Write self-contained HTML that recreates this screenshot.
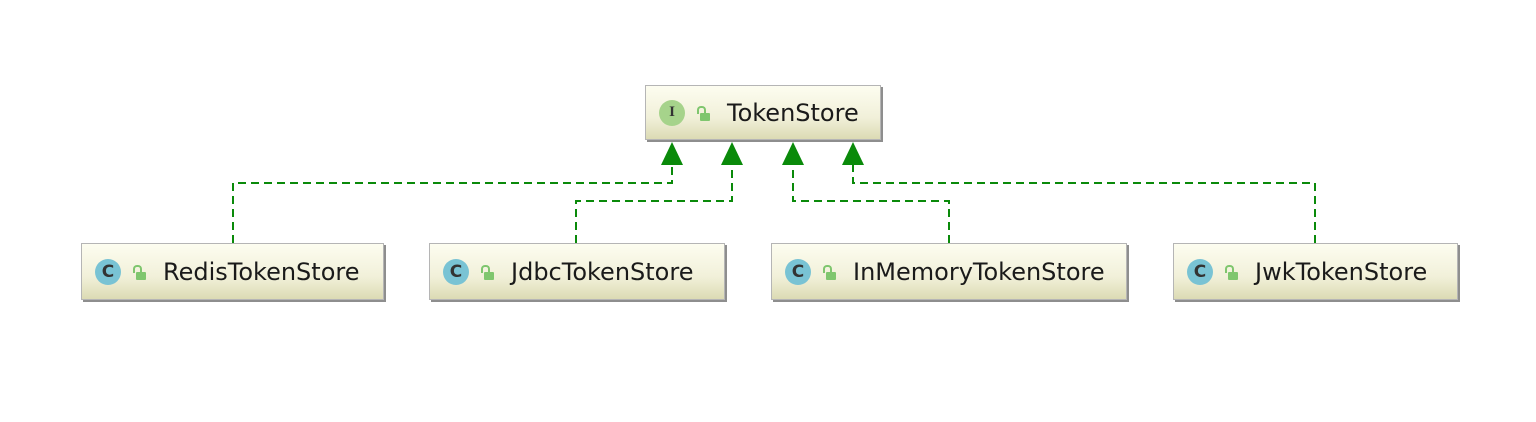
<!DOCTYPE html>
<html><head><style>
body{margin:0;width:1536px;height:422px;background:#fff;position:relative;overflow:hidden;font-family:"DejaVu Sans","Liberation Sans",sans-serif}
.b{position:absolute;box-sizing:border-box;border:1px solid #b5b5b5;background:linear-gradient(#fdfdf0,#f1f0d9 60%,#dcdbb4);box-shadow:2px 2px 0 #8e8e8e;display:flex;align-items:center;font-size:24px;color:#1a1a1a}
.ic{width:26px;height:26px;border-radius:50%;display:inline-flex;align-items:center;justify-content:center;font-size:17px;font-weight:bold;color:#333;margin-left:13px;flex:none}
.lk{width:12px;height:10px;margin:0 18px 0 12px;position:relative;flex:none}
.lk:before{content:"";position:absolute;left:3px;top:5px;width:10px;height:8px;background:#7fc66e;border-radius:1px}
.lk:after{content:"";position:absolute;left:0;top:-2px;width:5px;height:6px;border:2px solid #7fc66e;border-bottom:none;border-radius:4px 4px 0 0}
</style></head><body>
<svg width="1536" height="422" style="position:absolute;left:0;top:0">
<g fill="none" stroke="#0a8a0a" stroke-width="2" stroke-dasharray="8,5">
<path d="M233 243V183H672V165"/>
<path d="M576 243V201H732V165"/>
<path d="M949 243V201H793V165"/>
<path d="M1315 243V183H853V165"/>
</g>
<g fill="#0a8a0a">
<path d="M672 142L661 165H683Z"/><path d="M732 142L721 165H743Z"/>
<path d="M793 142L782 165H804Z"/><path d="M853 142L842 165H864Z"/>
</g></svg>
<div class="b" style="left:645px;top:85px;width:236px;height:55px"><span class="ic" style="background:#a6d38b;font-family:'Liberation Serif',serif;font-size:15px">I</span><span class="lk"></span>TokenStore</div>
<div class="b" style="left:81px;top:243px;width:303px;height:57px"><span class="ic" style="background:#79c3d4">C</span><span class="lk"></span>RedisTokenStore</div>
<div class="b" style="left:429px;top:243px;width:296px;height:57px"><span class="ic" style="background:#79c3d4">C</span><span class="lk"></span>JdbcTokenStore</div>
<div class="b" style="left:771px;top:243px;width:356px;height:57px"><span class="ic" style="background:#79c3d4">C</span><span class="lk"></span>InMemoryTokenStore</div>
<div class="b" style="left:1173px;top:243px;width:285px;height:57px"><span class="ic" style="background:#79c3d4">C</span><span class="lk"></span>JwkTokenStore</div>
</body></html>
